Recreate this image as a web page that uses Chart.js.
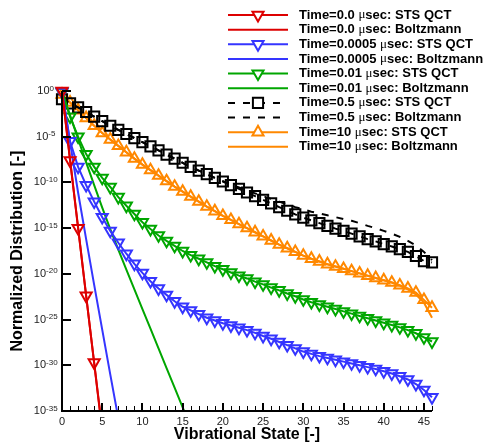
<!DOCTYPE html>
<html>
<head>
<meta charset="utf-8">
<script src="https://cdn.jsdelivr.net/npm/chart.js@4.4.1/dist/chart.umd.min.js"></script>
<style>
  html, body { margin: 0; padding: 0; background: #ffffff; }
  #wrap { width: 490px; height: 447px; position: relative; }
</style>
</head>
<body>
<div id="wrap"><canvas id="distChart"></canvas></div>
<script>
// vibrational levels (x categories)
const vibLevels = [0, 1, 2, 3, 4, 5, 6, 7, 8, 9, 10, 11, 12, 13, 14, 15, 16, 17, 18, 19, 20,
  21, 22, 23, 24, 25, 26, 27, 28, 29, 30, 31, 32, 33, 34, 35, 36, 37, 38, 39, 40,
  41, 42, 43, 44, 45, 46];

// log10 of normalized distribution (index = vibrational level)
const redQctExp = [0, -7.6, -15.0, -22.4, -29.7, -37.0];
const redBoltzExp = [0, -7.45, -14.9, -22.35, -29.8, -37.2];

const blueQctExp = [-0.1, -5.5, -8.3, -10.3, -12.1, -13.8, -15.3, -16.6, -17.8, -18.9,
  -19.9, -20.8, -21.6, -22.3, -23.0, -23.6, -24.0, -24.4, -24.8, -25.1,
  -25.4, -25.65, -25.9, -26.15, -26.45, -26.8, -27.1, -27.45, -27.8, -28.15,
  -28.5, -28.75, -29.0, -29.2, -29.4, -29.6, -29.8, -30.0, -30.2, -30.4,
  -30.65, -30.9, -31.2, -31.55, -32.05, -32.7, -33.5];
const blueBoltzExp = [0, -5.6, -11.1, -16.2, -21.2, -26.1, -31.0, -35.8];

const greenQctExp = [-0.1, -2.8, -5.0, -6.9, -8.3, -9.5, -10.5, -11.6, -12.55, -13.45,
  -14.35, -15.1, -15.8, -16.4, -16.95, -17.5, -17.95, -18.35, -18.75, -19.15,
  -19.5, -19.85, -20.2, -20.5, -20.85, -21.15, -21.5, -21.8, -22.15, -22.45,
  -22.8, -23.1, -23.35, -23.6, -23.85, -24.1, -24.35, -24.6, -24.85, -25.1,
  -25.35, -25.6, -25.85, -26.15, -26.5, -26.95, -27.4];
const greenBoltzExp = [0, -2.65, -5.25, -7.8, -10.3, -12.75, -15.1, -17.35, -19.55, -21.7,
  -23.85, -26.0, -28.15, -30.3, -32.45, -34.6, -36.75];

const blackQctExp = [-0.9, -1.35, -1.8, -2.3, -2.8, -3.3, -3.8, -4.25, -4.7, -5.15,
  -5.6, -6.05, -6.5, -6.95, -7.4, -7.85, -8.3, -8.7, -9.1, -9.5,
  -9.9, -10.3, -10.7, -11.1, -11.5, -11.9, -12.3, -12.7, -13.1, -13.5,
  -13.85, -14.15, -14.45, -14.75, -15.05, -15.3, -15.6, -15.9, -16.2, -16.45,
  -16.75, -17.0, -17.3, -17.6, -18.05, -18.6, -18.75];
const blackBoltzExp = [-0.9, -1.35, -1.8, -2.3, -2.8, -3.3, -3.8, -4.25, -4.7, -5.15,
  -5.6, -6.05, -6.5, -6.95, -7.4, -7.85, -8.3, -8.7, -9.1, -9.5,
  -9.85, -10.2, -10.55, -10.9, -11.2, -11.5, -11.8, -12.1, -12.4, -12.7,
  -12.95, -13.2, -13.4, -13.6, -13.8, -14.0, -14.2, -14.45, -14.75, -15.0,
  -15.3, -15.6, -15.95, -16.4, -16.9, -17.6, -18.5];

const orangeQctExp = [-0.4, -1.25, -2.1, -2.95, -3.8, -4.6, -5.3, -6.0, -6.7, -7.4,
  -8.05, -8.65, -9.25, -9.85, -10.45, -11.0, -11.55, -12.1, -12.65, -13.15,
  -13.65, -14.1, -14.55, -15.0, -15.45, -15.9, -16.35, -16.8, -17.2, -17.6,
  -18.0, -18.35, -18.65, -18.95, -19.2, -19.45, -19.7, -19.95, -20.2, -20.45,
  -20.7, -20.95, -21.25, -21.6, -22.05, -22.85, -23.7];
const orangeBoltzExp = [-0.4, -1.25, -2.1, -2.95, -3.8, -4.6, -5.3, -6.0, -6.7, -7.4,
  -8.05, -8.65, -9.25, -9.85, -10.45, -11.0, -11.55, -12.1, -12.65, -13.15,
  -13.65, -14.1, -14.55, -15.0, -15.45, -15.9, -16.35, -16.8, -17.2, -17.6,
  -18.0, -18.35, -18.65, -18.95, -19.2, -19.45, -19.7, -19.95, -20.2, -20.45,
  -20.7, -20.95, -21.3, -21.7, -22.25, -23.15, -24.8];

// tick labels
const xMajorTicks = [0, 5, 10, 15, 20, 25, 30, 35, 40, 45];
const yTickExps = [0, -5, -10, -15, -20, -25, -30, -35];

const RED = "#dd0000";
const BLUE = "#3535ff";
const GREEN = "#00a600";
const BLACK = "#000000";
const ORANGE = "#ff8800";
const FONT = "\"Liberation Sans\", Arial, sans-serif";
const CLIP = { left: 10, top: 10, right: 10, bottom: 0 };

function toPoints(exps) {
  return exps.map((e, i) => ({ x: vibLevels[i], y: Math.pow(10, e) }));
}

function qctSet(label, color, exps, style, rotation, dash) {
  return {
    label, data: toPoints(exps),
    borderColor: color, borderWidth: 2, borderDash: dash || [],
    pointStyle: style, pointRotation: rotation,
    pointRadius: style === "rect" ? 7.2 : 6.4,
    pointBorderWidth: 2, pointBorderColor: color,
    pointBackgroundColor: "rgba(0,0,0,0)",
    tension: 0, clip: CLIP
  };
}

function boltzSet(label, color, exps, dash) {
  return {
    label, data: toPoints(exps),
    borderColor: color, borderWidth: 2, borderDash: dash || [],
    pointRadius: 0, tension: 0, clip: CLIP
  };
}

const datasets = [
  qctSet("Time=0.0 \u03bcsec: STS QCT", RED, redQctExp, "triangle", 180),
  boltzSet("Time=0.0 \u03bcsec: Boltzmann", RED, redBoltzExp),
  qctSet("Time=0.0005 \u03bcsec: STS QCT", BLUE, blueQctExp, "triangle", 180),
  boltzSet("Time=0.0005 \u03bcsec: Boltzmann", BLUE, blueBoltzExp),
  qctSet("Time=0.01 \u03bcsec: STS QCT", GREEN, greenQctExp, "triangle", 180),
  boltzSet("Time=0.01 \u03bcsec: Boltzmann", GREEN, greenBoltzExp),
  qctSet("Time=0.5 \u03bcsec: STS QCT", BLACK, blackQctExp, "rect", 0, [7, 8]),
  boltzSet("Time=0.5 \u03bcsec: Boltzmann", BLACK, blackBoltzExp, [7, 8]),
  qctSet("Time=10 \u03bcsec: STS QCT", ORANGE, orangeQctExp, "triangle", 0),
  boltzSet("Time=10 \u03bcsec: Boltzmann", ORANGE, orangeBoltzExp)
];

function drawMarker(ctx, style, x, y, r, rotation) {
  ctx.beginPath();
  if (style === "rect") {
    const s = r * Math.SQRT1_2;
    ctx.rect(x - s, y - s, 2 * s, 2 * s);
  } else {
    let rad = rotation * Math.PI / 180;
    ctx.moveTo(x + Math.sin(rad) * r, y - Math.cos(rad) * r);
    rad += 2 * Math.PI / 3;
    ctx.lineTo(x + Math.sin(rad) * r, y - Math.cos(rad) * r);
    rad += 2 * Math.PI / 3;
    ctx.lineTo(x + Math.sin(rad) * r, y - Math.cos(rad) * r);
    ctx.closePath();
  }
  ctx.fill();
  ctx.stroke();
}

// axes, inward ticks, superscript labels, titles and legend drawn Tecplot-style
const tecplotDecor = {
  id: "tecplotDecor",
  afterDraw(chart) {
    const { ctx, chartArea: a, scales: { x, y } } = chart;
    ctx.save();
    ctx.strokeStyle = "#000";
    ctx.fillStyle = "#000";
    ctx.setLineDash([]);

    // minor x ticks
    ctx.lineWidth = 1;
    ctx.beginPath();
    vibLevels.forEach((v) => {
      if (xMajorTicks.includes(v)) return;
      const px = Math.round(x.getPixelForValue(v)) + 0.5;
      ctx.moveTo(px, a.bottom);
      ctx.lineTo(px, a.bottom - 5);
    });
    ctx.stroke();

    // major ticks and axis lines
    ctx.lineWidth = 2;
    ctx.beginPath();
    xMajorTicks.forEach((v) => {
      const px = Math.round(x.getPixelForValue(v));
      ctx.moveTo(px, a.bottom);
      ctx.lineTo(px, a.bottom - 8);
    });
    yTickExps.forEach((e) => {
      const py = Math.round(y.getPixelForValue(Math.pow(10, e)));
      ctx.moveTo(a.left, py);
      ctx.lineTo(a.left + 9, py);
    });
    ctx.moveTo(a.left, a.top);
    ctx.lineTo(a.left, a.bottom);
    ctx.lineTo(a.right, a.bottom);
    ctx.stroke();

    // x tick labels
    ctx.fillStyle = "#222";
    ctx.font = "11px " + FONT;
    ctx.textAlign = "center";
    ctx.textBaseline = "middle";
    xMajorTicks.forEach((v) => {
      ctx.fillText(String(v), x.getPixelForValue(v), 421.5);
    });

    // y tick labels 10^n, centred
    ctx.textAlign = "left";
    yTickExps.forEach((e) => {
      const py = y.getPixelForValue(Math.pow(10, e));
      ctx.font = "11px " + FONT;
      const baseW = ctx.measureText("10").width;
      ctx.font = "8px " + FONT;
      const expTxt = String(e);
      const expW = ctx.measureText(expTxt).width;
      const left = 45.7 - (baseW + expW) / 2;
      ctx.font = "11px " + FONT;
      ctx.textBaseline = "middle";
      ctx.fillText("10", left, py);
      ctx.font = "8px " + FONT;
      ctx.textBaseline = "alphabetic";
      ctx.fillText(expTxt, left + baseW, py - 0.5);
    });

    // axis titles
    ctx.fillStyle = "#000";
    ctx.font = "bold 16px " + FONT;
    ctx.textAlign = "center";
    ctx.textBaseline = "middle";
    ctx.fillText("Vibrational State [-]", (a.left + a.right) / 2, 434.5);
    ctx.save();
    ctx.translate(17.5, (a.top + a.bottom) / 2);
    ctx.rotate(-Math.PI / 2);
    ctx.fillText("Normalized Distribution [-]", 0, 0);
    ctx.restore();

    // legend
    ctx.textAlign = "left";
    ctx.textBaseline = "middle";
    chart.data.datasets.forEach((ds, i) => {
      const ly = 15 + i * 14.65;
      ctx.strokeStyle = ds.borderColor;
      ctx.lineWidth = 2;
      ctx.setLineDash(ds.borderDash || []);
      ctx.beginPath();
      ctx.moveTo(228, ly);
      ctx.lineTo(288, ly);
      ctx.stroke();
      ctx.setLineDash([]);
      if (ds.pointRadius > 0) {
        ctx.fillStyle = "#fff";
        ctx.lineWidth = ds.pointBorderWidth;
        drawMarker(ctx, ds.pointStyle, 258, ly, ds.pointRadius, ds.pointRotation);
      }
      ctx.fillStyle = "#000";
      const parts = ds.label.split("\u03bc");
      let tx = 299;
      ctx.font = "bold 13px " + FONT;
      ctx.fillText(parts[0], tx, ly);
      tx += ctx.measureText(parts[0]).width;
      ctx.font = "13px \"Liberation Serif\", serif";
      ctx.fillText("\u03bc", tx, ly);
      tx += ctx.measureText("\u03bc").width;
      ctx.font = "bold 13px " + FONT;
      ctx.fillText(parts[1], tx, ly);
    });
    ctx.restore();
  }
};

new Chart(document.getElementById("distChart"), {
  type: "line",
  data: { datasets },
  options: {
    responsive: true,
    maintainAspectRatio: false,
    animation: false,
    events: [],
    layout: { padding: { left: 0, top: 91, right: 58, bottom: 0 } },
    plugins: { legend: { display: false }, tooltip: { enabled: false } },
    scales: {
      x: {
        type: "linear", min: 0, max: 46,
        ticks: { display: false },
        grid: { display: false },
        border: { display: false },
        afterFit(scale) { scale.height = 36; }
      },
      y: {
        type: "logarithmic", min: 1e-35, max: 1,
        ticks: { display: false },
        grid: { display: false },
        border: { display: false },
        afterBuildTicks(scale) {
          scale.ticks = yTickExps.map((e) => ({ value: Math.pow(10, e) }));
        },
        afterFit(scale) { scale.width = 62; }
      }
    }
  },
  plugins: [tecplotDecor]
});
</script>
</body>
</html>
